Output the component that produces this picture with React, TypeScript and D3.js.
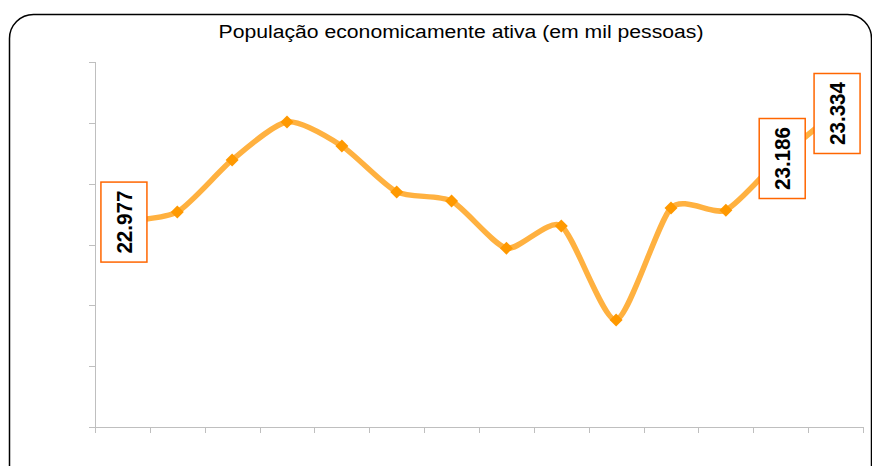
import React from "react";
import * as d3 from "d3";

const title = "População economicamente ativa (em mil pessoas)";
const categories = ["1", "2", "3", "4", "5", "6", "7", "8", "9", "10", "11", "12", "13", "14"];
const values = [22.977, 23.007, 23.178, 23.303, 23.224, 23.073, 23.043, 22.888, 22.961, 22.652, 23.02, 23.013, 23.186, 23.334];
const labelledIndices = [0, 12, 13];
const yTicks = [22.3, 22.5, 22.7, 22.9, 23.1, 23.3, 23.5];

const W = 872;
const H = 466;

export default function App() {
  const x0 = 95, x1 = 863, yTop = 62, yBot = 427;
  const x = d3.scaleBand<string>().domain(categories).range([x0, x1]).padding(0);
  const y = d3.scaleLinear().domain([22.3, 23.5]).range([yBot, yTop]);
  const cx = (i: number) => (x(categories[i]) as number) + x.bandwidth() / 2;
  const line = d3
    .line<number>()
    .x((_, i) => cx(i))
    .y((d) => y(d))
    .curve(d3.curveCardinal.tension(0.3));
  const path = line(values) || "";
  const axisColor = "#BFBFBF";
  const boundaries = d3.range(categories.length + 1).map((i) => x0 + i * x.bandwidth());

  return (
    <svg width={W} height={H} style={{ position: "absolute", left: 0, top: 0, background: "#fff" }}>
      <rect x={0} y={0} width={W} height={H} fill="#fff" />
      <rect x={9.5} y={14.5} width={862} height={480} rx={24} ry={24} fill="#fff" stroke="#000" strokeWidth={1.5} />
      <text
        x={461}
        y={38}
        textAnchor="middle"
        fontFamily="Liberation Sans, Arial, sans-serif"
        fontSize={18}
        textLength={485}
        lengthAdjust="spacingAndGlyphs"
        fill="#000"
      >
        {title}
      </text>
      {/* y axis */}
      <line x1={x0 + 0.5} x2={x0 + 0.5} y1={yTop} y2={yBot} stroke={axisColor} />
      {yTicks.map((t) => (
        <line key={t} x1={89} x2={x0} y1={Math.round(y(t)) + 0.5} y2={Math.round(y(t)) + 0.5} stroke={axisColor} />
      ))}
      {/* x axis */}
      <line x1={x0} x2={x1} y1={yBot + 0.5} y2={yBot + 0.5} stroke={axisColor} />
      {boundaries.map((b, i) => (
        <line key={i} x1={Math.round(b) + 0.5} x2={Math.round(b) + 0.5} y1={yBot} y2={yBot + 6} stroke={axisColor} />
      ))}
      <path d={path} fill="none" stroke="#FFB140" strokeWidth={5.5} strokeLinejoin="round" />
      {values.map((v, i) => {
        const px = cx(i), py = y(v), r = 6.5;
        return (
          <path
            key={i}
            d={`M${px},${py - r}L${px + r},${py}L${px},${py + r}L${px - r},${py}Z`}
            fill="#FF9900"
          />
        );
      })}
      {labelledIndices.map((i) => {
        const px = cx(i) + 1.5, py = y(values[i]) + 1;
        const bw = 46, bh = 80;
        return (
          <g key={i}>
            <rect x={px - bw / 2} y={py - bh / 2} width={bw} height={bh} fill="#fff" stroke="#FF6600" strokeWidth={1.5} />
            <text
              transform={`translate(${px + 8},${py}) rotate(-90)`}
              textAnchor="middle"
              fontFamily="Liberation Sans, Arial, sans-serif"
              fontWeight="bold"
              fontSize={22}
              textLength={63}
              lengthAdjust="spacingAndGlyphs"
              fill="#000"
            >
              {values[i].toFixed(3)}
            </text>
          </g>
        );
      })}
    </svg>
  );
}
